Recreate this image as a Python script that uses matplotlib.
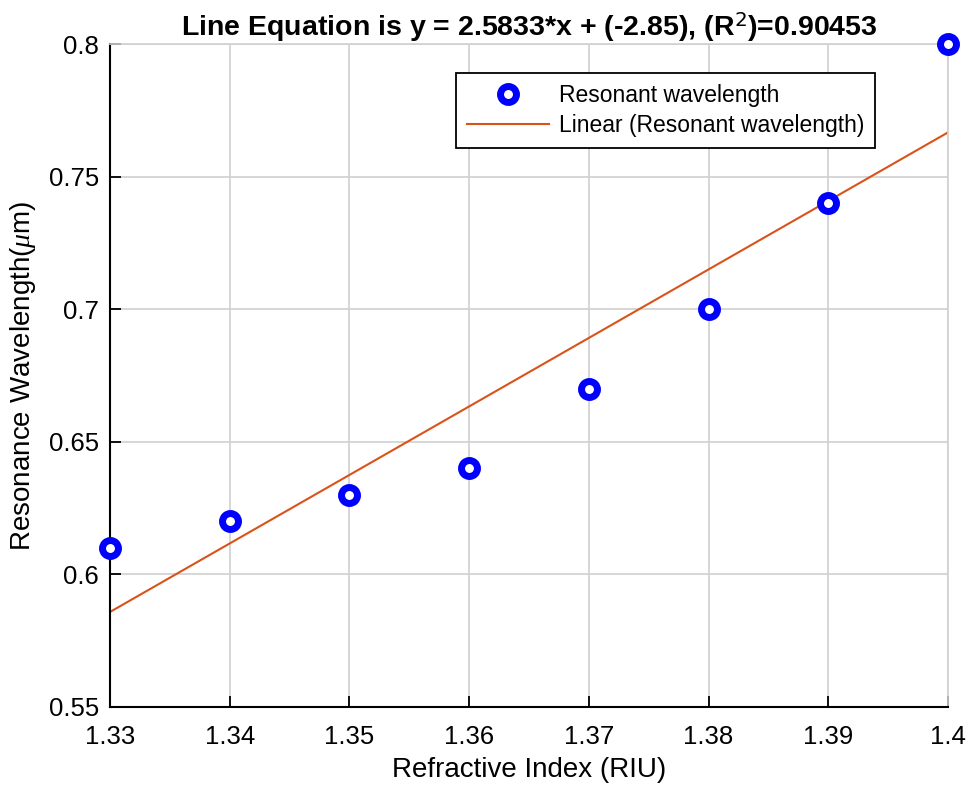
import matplotlib
matplotlib.use("Agg")
import matplotlib.pyplot as plt
import numpy as np

# refractive index vs. resonant wavelength
riu = [1.33, 1.34, 1.35, 1.36, 1.37, 1.38, 1.39, 1.40]
wavelength = [0.61, 0.62, 0.63, 0.64, 0.67, 0.70, 0.74, 0.80]
x_ticks = [1.33, 1.34, 1.35, 1.36, 1.37, 1.38, 1.39, 1.40]
x_ticklabels = ["1.33", "1.34", "1.35", "1.36", "1.37", "1.38", "1.39", "1.4"]
y_ticks = [0.55, 0.6, 0.65, 0.7, 0.75, 0.8]
y_ticklabels = ["0.55", "0.6", "0.65", "0.7", "0.75", "0.8"]

plt.rcParams['font.family'] = ['Liberation Sans', 'DejaVu Sans']
plt.rcParams['mathtext.fontset'] = 'custom'
plt.rcParams['mathtext.it'] = 'Liberation Serif:italic'

x = np.array(riu)
y = np.array(wavelength)
p = np.polyfit(x, y, 1)
yfit = np.polyval(p, x)
r2 = 1 - np.sum((y - yfit) ** 2) / np.sum((y - y.mean()) ** 2)

fig = plt.figure(figsize=(9.8, 7.9), dpi=100)
ax = fig.add_axes([110 / 980, 83 / 790, 838 / 980, 663 / 790])

ax.plot(x, y, 'o', color='blue', markerfacecolor='white', markeredgecolor='blue',
        markersize=11.5, markeredgewidth=5, linestyle='none',
        label='Resonant wavelength', zorder=3, clip_on=False)
ax.plot(x, yfit, '-', color='#d95319', linewidth=1.5,
        label='Linear (Resonant wavelength)', zorder=2)

ax.set_xlim(1.33, 1.40)
ax.set_ylim(0.55, 0.8)
ax.set_xticks(x_ticks)
ax.set_xticklabels(x_ticklabels)
ax.set_yticks(y_ticks)
ax.set_yticklabels(y_ticklabels)
ax.tick_params(direction='in', length=8, width=1.3, labelsize=18.5,
               top=False, right=False)
ax.tick_params(axis='x', pad=13)
ax.tick_params(axis='y', pad=8)
ax.grid(True, color='#d0d0d0', linewidth=1.2)
ax.set_axisbelow(True)
for side in ['left', 'bottom']:
    ax.spines[side].set_linewidth(1.5)
for side in ['top', 'right']:
    ax.spines[side].set_color('#d0d0d0')
    ax.spines[side].set_linewidth(1.2)

ax.set_xlabel('Refractive Index (RIU)', fontsize=20, labelpad=6)
ax.set_ylabel(r'Resonance Wavelength($\mu$m)', fontsize=20, labelpad=8)
ax.set_title('Line Equation is y = %.4f*x + (%.2f), (R$^2$)=%.5f' % (p[0], p[1], r2),
             fontsize=20.5, fontweight='bold', pad=6)

leg = ax.legend(loc='upper right', bbox_to_anchor=(875 / 980, 1 - 73 / 790),
                bbox_transform=fig.transFigure, borderaxespad=0,
                fontsize=16.5, frameon=True, fancybox=False, edgecolor='black',
                borderpad=0.48, handlelength=3.6, handletextpad=0.4,
                labelspacing=0.3, framealpha=1)
leg.get_frame().set_linewidth(1.3)

fig.savefig('out.png', dpi=100)
